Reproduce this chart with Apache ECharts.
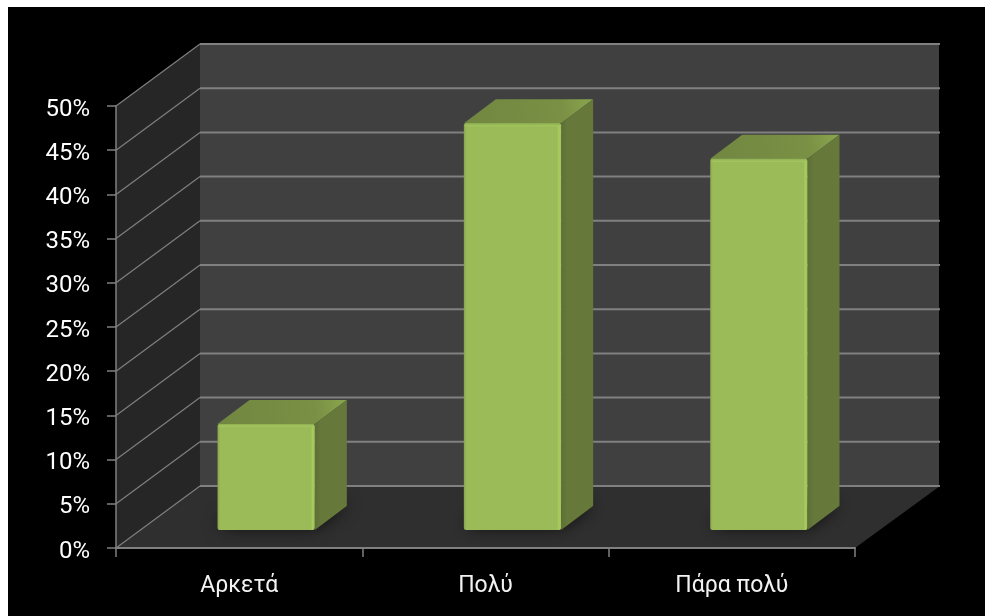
<!DOCTYPE html>
<html><head><meta charset="utf-8">
<style>html,body{margin:0;padding:0;background:#fff;overflow:hidden}#c{position:absolute;left:8px;top:7px;width:977px;height:609px}</style>
<script src="https://cdn.jsdelivr.net/npm/echarts@6/dist/echarts.min.js"></script>
</head><body><div id="c"></div>
<script>
const categories = ['Αρκετά', 'Πολύ', 'Πάρα πολύ'];
const values = [12, 46, 42];
const valueTicks = [0, 5, 10, 15, 20, 25, 30, 35, 40, 45, 50];

const WALL_DX = 84, WALL_DY = 62;
const BAR_DX = 27, BAR_DY = 18, BAR_DEPTH_X = 32, BAR_DEPTH_Y = 24;
const LG = echarts.graphic.LinearGradient;
const FONT = 'Roboto';

function poly(points, style, z2) {
  return { type: 'polygon', shape: { points }, style, z2: z2 || 0, silent: true };
}
function seg(x1, y1, x2, y2, stroke, w) {
  return { type: 'line', shape: { x1, y1, x2, y2 }, style: { stroke, lineWidth: w }, silent: true };
}

function renderWalls(params, api) {
  const cs = params.coordSys;
  const l = cs.x, r = cs.x + cs.width, t = cs.y, b = cs.y + cs.height;
  const children = [];
  if (params.dataIndex === 0) {
    children.push(poly([[l, t], [l + WALL_DX, t - WALL_DY], [l + WALL_DX, b - WALL_DY], [l, b]], { fill: '#262626' }));
    children.push(poly([[l + WALL_DX, t - WALL_DY], [r + WALL_DX, t - WALL_DY], [r + WALL_DX, b - WALL_DY], [l + WALL_DX, b - WALL_DY]], { fill: '#404040' }));
    children.push(poly([[l, b], [l + WALL_DX, b - WALL_DY], [r + WALL_DX + 1, b - WALL_DY], [r, b]], { fill: '#2f2f2f' }));
  }
  const y = api.coord([0, api.value(0)])[1];
  children.push(seg(l, y, l + WALL_DX, y - WALL_DY, '#7f7f7f', 1.2));
  children.push(seg(l + WALL_DX, y - WALL_DY, r + WALL_DX + 1, y - WALL_DY, '#808080', 2));
  return { type: 'group', children };
}

function renderBar(params, api) {
  const idx = api.value(0), val = api.value(1);
  const p = api.coord([idx, val]), o = api.coord([idx, 0]);
  const w = api.size([1, 0])[0] * 0.395;
  const x0 = p[0] - w / 2 + BAR_DX, x1 = x0 + w;
  const yb = o[1] - BAR_DY, yt = p[1] - BAR_DY;
  const dx = BAR_DEPTH_X, dy = BAR_DEPTH_Y;
  return {
    type: 'group',
    children: [
      poly([[x0, yb - 1], [x0 + dx, yb - dy], [x1 + dx, yb - dy], [x1, yb - 1]],
        { fill: '#000', shadowBlur: 18, shadowOffsetY: -3, shadowColor: 'rgba(0,0,0,0.95)' }),
      poly([[x0, yt], [x0 + dx, yt - dy], [x1 + dx, yt - dy], [x1, yt]],
        { fill: new LG(0, 1, 1, 0, [{ offset: 0, color: '#718640' }, { offset: 0.75, color: '#7a9044' }, { offset: 1, color: '#8aa64e' }]) }),
      poly([[x1, yt], [x1 + dx, yt - dy], [x1 + dx, yb - dy], [x1, yb]],
        { fill: new LG(0, 0, 1, 0, [{ offset: 0, color: '#5d6f36' }, { offset: 0.2, color: '#66793b' }, { offset: 1, color: '#66793b' }]) }),
      { type: 'rect', shape: { x: x0, y: yt, width: w, height: yb - yt, r: 2 }, silent: true,
        style: { fill: new LG(0, 0, 1, 0, [
          { offset: 0, color: '#86a24d' }, { offset: 0.015, color: '#94b255' }, { offset: 0.03, color: '#9bbb59' },
          { offset: 0.96, color: '#9bbb59' }, { offset: 0.975, color: '#a6cc5e' }, { offset: 1, color: '#a0c25b' }]) } },
      { type: 'rect', shape: { x: x0 + 1, y: yt, width: w - 2, height: 3, r: 1 }, silent: true,
        style: { fill: new LG(0, 0, 0, 1, [{ offset: 0, color: '#8fae52' }, { offset: 1, color: '#a6c95f' }]) } }
    ]
  };
}

const chart = echarts.init(document.getElementById('c'), null, { renderer: 'canvas' });
chart.setOption({
  backgroundColor: '#000',
  animation: false,
  grid: { left: 108, top: 99, width: 739, height: 442 },
  xAxis: {
    type: 'category', data: categories, z: 5,
    axisLine: { show: true, onZero: false, lineStyle: { color: '#808080', width: 2 } },
    axisTick: { show: true, alignWithLabel: false, length: 9, lineStyle: { color: '#808080', width: 1.5 } },
    axisLabel: { color: '#f2f2f2', fontFamily: FONT, fontSize: 23, margin: 27 },
    splitLine: { show: false }
  },
  yAxis: {
    type: 'value', min: 0, max: 50, interval: 5, z: 5,
    axisLine: { show: true, lineStyle: { color: '#808080', width: 1.5 } },
    axisTick: { show: true, length: 9, lineStyle: { color: '#808080', width: 1.5 } },
    axisLabel: { color: '#ffffff', fontFamily: FONT, fontSize: 24, margin: 26, verticalAlign: 'top', lineHeight: 7, formatter: '{value}%' },
    splitLine: { show: false }
  },
  series: [
    { type: 'custom', name: 'walls', z: 1, silent: true, clip: false, renderItem: renderWalls,
      encode: { y: 0 }, data: valueTicks.map(v => [v]) },
    { type: 'custom', name: 'bars', z: 3, silent: true, clip: false, renderItem: renderBar,
      encode: { x: 0, y: 1 }, data: values.map((v, i) => [i, v]) }
  ]
});
</script></body></html>
